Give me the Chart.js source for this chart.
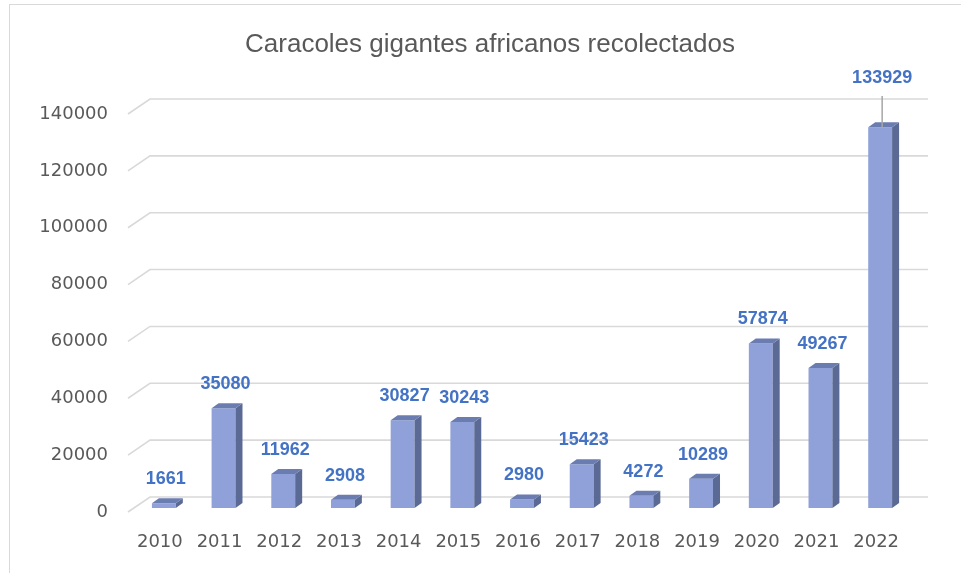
<!DOCTYPE html>
<html>
<head>
<meta charset="utf-8">
<script src="https://cdn.jsdelivr.net/npm/chart.js@4/dist/chart.umd.min.js"></script>
<style>
  html, body { margin: 0; padding: 0; background: #fff; }
  #wrap { width: 961px; height: 573px; }
</style>
</head>
<body>
<div id="wrap"><canvas id="snailChart" width="961" height="573"></canvas></div>
<script>
// Datos del gráfico
const years = ['2010', '2011', '2012', '2013', '2014', '2015', '2016', '2017', '2018', '2019', '2020', '2021', '2022'];
const collected = [1661, 35080, 11962, 2908, 30827, 30243, 2980, 15423, 4272, 10289, 57874, 49267, 133929];
const yTicks = [0, 20000, 40000, 60000, 80000, 100000, 120000, 140000];
const chartTitle = 'Caracoles gigantes africanos recolectados';

// Colores de las caras de la columna 3D
const frontColor = '#8fa1d8';
const topColor = '#6b7cb1';
const sideColor = '#5b6a95';

// desplazamiento de la columna respecto al plano frontal
const shiftX = 4, shiftY = -4;
// profundidad de la columna
const depthX = 7, depthY = 5;

const bars3d = {
    id: 'bars3d',
    beforeDraw(chart) {
        const ctx = chart.ctx;
        ctx.save();
        ctx.strokeStyle = '#d9d9d9';
        ctx.lineWidth = 1;
        ctx.strokeRect(9.5, 4.5, 2000, 2000);
        // título
        ctx.font = '26px "Liberation Sans", Arial, sans-serif';
        ctx.fillStyle = '#595959';
        ctx.textAlign = 'center';
        ctx.textBaseline = 'middle';
        ctx.fillText(chartTitle, 490, 45);
        ctx.restore();
    },
    beforeDatasetsDraw(chart) {
        const ctx = chart.ctx;
        const y = chart.scales.y;
        const area = chart.chartArea;
        // líneas de cuadrícula en la pared del fondo
        ctx.save();
        ctx.strokeStyle = '#d9d9d9';
        ctx.lineWidth = 1.6;
        yTicks.forEach(v => {
            const py = y.getPixelForValue(v);
            ctx.beginPath();
            ctx.moveTo(area.left - 2, py);
            ctx.lineTo(area.left + 20, py - 15);
            ctx.lineTo(928, py - 15);
            ctx.stroke();
        });
        ctx.restore();
        ctx.save();
        ctx.translate(shiftX, shiftY);
    },
    afterDatasetsDraw(chart) {
        const ctx = chart.ctx;
        const meta = chart.getDatasetMeta(0);
        meta.data.forEach((bar, i) => {
            const l = bar.x - bar.width / 2, r = bar.x + bar.width / 2;
            const t = bar.y, b = bar.base;
            // cara lateral
            ctx.fillStyle = sideColor;
            ctx.beginPath();
            ctx.moveTo(r, t);
            ctx.lineTo(r + depthX, t - depthY);
            ctx.lineTo(r + depthX, b - depthY);
            ctx.lineTo(r, b);
            ctx.closePath();
            ctx.fill();
            // cara superior
            ctx.fillStyle = topColor;
            ctx.beginPath();
            ctx.moveTo(l, t);
            ctx.lineTo(l + depthX, t - depthY);
            ctx.lineTo(r + depthX, t - depthY);
            ctx.lineTo(r, t);
            ctx.closePath();
            ctx.fill();
        });
        ctx.restore();

        // etiquetas de datos
        const area = chart.chartArea;
        ctx.save();
        ctx.font = 'bold 18px "Liberation Sans", Arial, sans-serif';
        ctx.fillStyle = '#4472c4';
        ctx.textAlign = 'center';
        ctx.textBaseline = 'middle';
        meta.data.forEach((bar, i) => {
            const cx = bar.x + shiftX + 2;
            const top = bar.y + shiftY;
            let ly = top - 24;
            if (ly < area.top + 10) {
                ly = area.top - 36;
                ctx.strokeStyle = '#a6a6a6';
                ctx.lineWidth = 1.5;
                ctx.beginPath();
                ctx.moveTo(cx, ly + 18);
                ctx.lineTo(cx, top);
                ctx.stroke();
            }
            ctx.fillText(String(collected[i]), cx, ly);
        });
        ctx.restore();
    }
};

const config = {
    type: 'bar',
    data: {
        labels: years,
        datasets: [{
            label: 'Caracoles',
            data: collected,
            backgroundColor: frontColor,
            borderWidth: 0,
            barPercentage: 0.4,
            categoryPercentage: 1
        }]
    },
    options: {
        responsive: false,
        animation: false,
        layout: { padding: { left: 0, right: 55, top: 114, bottom: 0 } },
        plugins: {
            legend: { display: false },
            tooltip: { enabled: false },
            title: { display: false }
        },
        scales: {
            x: {
                grid: { display: false, drawTicks: false },
                border: { display: false },
                ticks: {
                    color: '#595959',
                    padding: 20,
                    font: { family: '"DejaVu Sans", sans-serif', size: 18 }
                },
                afterFit(scale) { scale.height = 61; }
            },
            y: {
                min: 0,
                max: 140000,
                grid: { display: false, drawTicks: false },
                border: { display: false },
                ticks: {
                    stepSize: 20000,
                    color: '#595959',
                    padding: 22,
                    font: { family: '"DejaVu Sans", sans-serif', size: 18 },
                    callback: value => String(value)
                },
                afterFit(scale) { scale.width = 130; }
            }
        }
    },
    plugins: [bars3d]
};

const ctx = document.getElementById('snailChart').getContext('2d');
new Chart(ctx, config);
</script>
</body>
</html>
